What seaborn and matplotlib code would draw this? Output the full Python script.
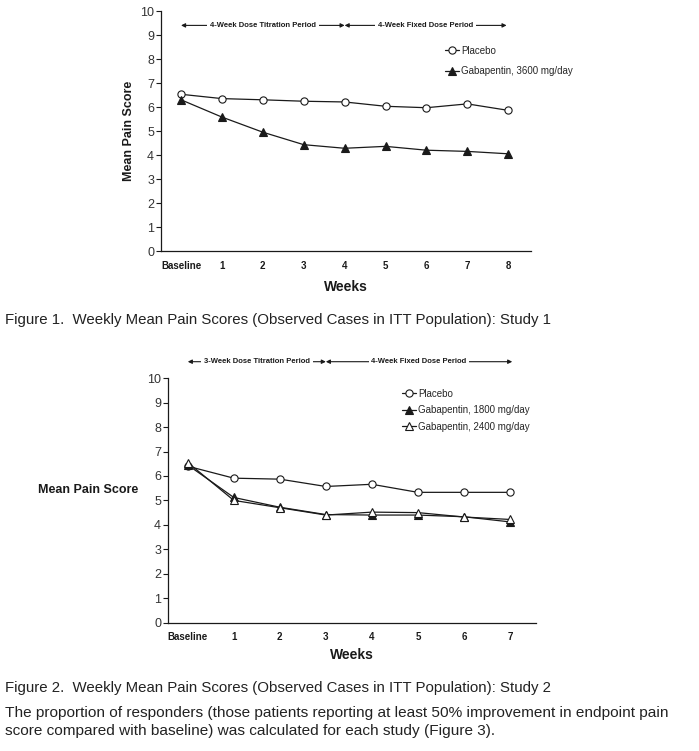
import numpy as np
import matplotlib
matplotlib.use('Agg')
import matplotlib.pyplot as plt
import seaborn as sns

# Study 1
week_labels_1 = ['Baseline', '1', '2', '3', '4', '5', '6', '7', '8']
placebo_1 = [6.53, 6.35, 6.30, 6.24, 6.21, 6.03, 5.97, 6.13, 5.86]
gaba_3600 = [6.30, 5.58, 4.95, 4.43, 4.28, 4.36, 4.20, 4.15, 4.05]

# Study 2
week_labels_2 = ['Baseline', '1', '2', '3', '4', '5', '6', '7']
placebo_2 = [6.40, 5.91, 5.87, 5.57, 5.66, 5.33, 5.33, 5.33]
gaba_1800 = [6.45, 5.12, 4.72, 4.42, 4.40, 4.40, 4.33, 4.12]
gaba_2400 = [6.55, 5.00, 4.70, 4.40, 4.52, 4.50, 4.32, 4.22]

caption_1 = 'Figure 1.  Weekly Mean Pain Scores (Observed Cases in ITT Population): Study 1'
caption_2 = 'Figure 2.  Weekly Mean Pain Scores (Observed Cases in ITT Population): Study 2'
para_1 = ('The proportion of responders (those patients reporting at least 50% improvement in endpoint pain')
para_2 = 'score compared with baseline) was calculated for each study (Figure 3).'

sns.set_style('ticks')
plt.rcParams['font.family'] = ['Liberation Sans', 'DejaVu Sans']
INK = '#1a1a1a'

fig = plt.figure(figsize=(6.99, 7.51), dpi=100)
ax1 = fig.add_axes([161 / 699, 1 - 251 / 751, (530.7 - 161) / 699, 240 / 751])
ax2 = fig.add_axes([168 / 699, 1 - 622.5 / 751, (535.7 - 168) / 699, 244.2 / 751])


def series(ax, x, y, marker, face, ms):
    sns.lineplot(x=x, y=y, ax=ax, color=INK, linewidth=0.9, marker=marker,
                 markersize=ms, markerfacecolor=face, markeredgecolor=INK,
                 markeredgewidth=0.8, legend=False)


def period(ax, x0, x1, y, text):
    ax.annotate('', xy=(x1, y), xytext=(x0, y), annotation_clip=False,
                arrowprops=dict(arrowstyle='<|-|>', color=INK, lw=0.8,
                                mutation_scale=6, shrinkA=0, shrinkB=0))
    ax.text((x0 + x1) / 2, y, text, ha='center', va='center', fontsize=5.5,
            fontweight='bold', color=INK, clip_on=False,
            bbox=dict(facecolor='white', edgecolor='none', pad=2))


def style_axes(ax, labels, xlim):
    ax.set_ylim(0, 10)
    ax.set_xlim(*xlim)
    ax.set_yticks(range(0, 11))
    ax.set_xticks(range(len(labels)))
    ax.set_xticklabels(labels, fontweight='bold', fontsize=7, color=INK)
    ax.tick_params(axis='x', length=0, pad=7)
    ax.tick_params(axis='y', length=3.5, width=0.8, pad=1.5, labelsize=9,
                   labelcolor='#333333', color=INK)
    for s in ['top', 'right']:
        ax.spines[s].set_visible(False)
    for s in ['left', 'bottom']:
        ax.spines[s].set_linewidth(0.9)
        ax.spines[s].set_color(INK)


# Study 1
x1 = np.arange(len(week_labels_1))
series(ax1, x1, placebo_1, 'o', 'white', 5.2)
series(ax1, x1, gaba_3600, '^', INK, 5.5)
style_axes(ax1, week_labels_1, (-0.49, 8.55))
ax1.set_xlabel('Weeks', fontsize=10, fontweight='bold', color=INK, labelpad=7)
ax1.set_ylabel('Mean Pain Score', fontsize=9, fontweight='bold', color=INK)
ax1.yaxis.set_label_coords(-0.07, 0.5)
period(ax1, 0, 4, 9.4, '4-Week Dose Titration Period')
period(ax1, 4, 7.96, 9.4, '4-Week Fixed Dose Period')
ax1.legend(ax1.lines[:2], ['Placebo', 'Gabapentin, 3600 mg/day'],
           loc='upper left', bbox_to_anchor=(6.45, 8.55),
           bbox_transform=ax1.transData, frameon=False, fontsize=7,
           handlelength=1.5, handletextpad=0.2, borderpad=0,
           borderaxespad=0, labelspacing=1.05)

# Study 2
x2 = np.arange(len(week_labels_2))
series(ax2, x2, placebo_2, 'o', 'white', 5.2)
series(ax2, x2, gaba_1800, '^', INK, 5.5)
series(ax2, x2, gaba_2400, '^', 'white', 6)
style_axes(ax2, week_labels_2, (-0.43, 7.56))
ax2.tick_params(axis='x', pad=6.5)
ax2.set_xlabel('Weeks', fontsize=10, fontweight='bold', color=INK, labelpad=5)
ax2.set_ylabel('Mean Pain Score', fontsize=9, fontweight='bold', color=INK,
               rotation=0, ha='center', va='center')
ax2.yaxis.set_label_coords(-0.2176, 0.543)
period(ax2, 0, 3, 10.68, '3-Week Dose Titration Period')
period(ax2, 3, 7.05, 10.68, '4-Week Fixed Dose Period')
ax2.legend(ax2.lines[:3], ['Placebo', 'Gabapentin, 1800 mg/day',
                           'Gabapentin, 2400 mg/day'],
           loc='upper left', bbox_to_anchor=(4.65, 9.58),
           bbox_transform=ax2.transData, frameon=False, fontsize=7,
           handlelength=1.5, handletextpad=0.2, borderpad=0,
           borderaxespad=0, labelspacing=0.68)

# captions (condensed face not available, so a smaller size keeps the widths)
cap_kw = dict(fontsize=10.8, va='center', color='#222222')
fig.text(5 / 699, 1 - 320 / 751, caption_1, **cap_kw)
fig.text(5 / 699, 1 - 688 / 751, caption_2, **cap_kw)
fig.text(5 / 699, 1 - 713 / 751, para_1, **dict(cap_kw, fontsize=11.1))
fig.text(5 / 699, 1 - 731 / 751, para_2, **dict(cap_kw, fontsize=11.1))

fig.savefig('out.png', dpi=100, facecolor='white')
